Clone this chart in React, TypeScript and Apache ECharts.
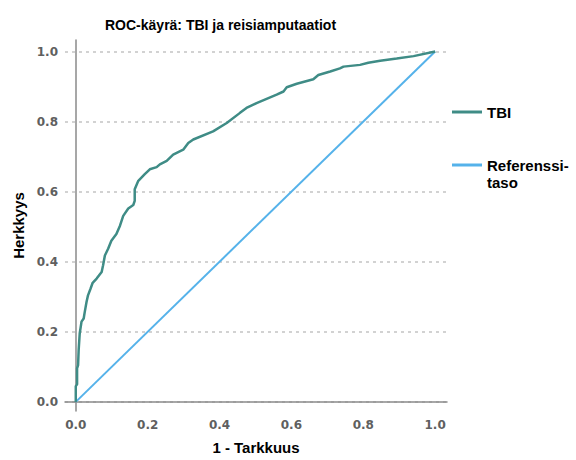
import React, { useEffect, useRef } from "react";
import * as echarts from "echarts";

const chartTitle = "ROC-käyrä: TBI ja reisiamputaatiot";
const xAxisName = "1 - Tarkkuus";
const yAxisName = "Herkkyys";
const tickValues = [0, 0.2, 0.4, 0.6, 0.8, 1.0];

const tbiName = "TBI";
const refName = "Referenssitaso";

// TBI ROC curve: false positive rate (1 - Tarkkuus) and sensitivity (Herkkyys)
const tbiFpr = [
  0, 0, 0.0036, 0.0036, 0.0064, 0.008, 0.011, 0.016, 0.022, 0.025, 0.03, 0.034,
  0.041, 0.047, 0.058, 0.072, 0.076, 0.081, 0.09, 0.099, 0.113, 0.123, 0.132,
  0.146, 0.16, 0.164, 0.164, 0.174, 0.192, 0.206, 0.225, 0.234, 0.253, 0.271,
  0.299, 0.313, 0.327, 0.382, 0.42, 0.457, 0.475, 0.503, 0.559, 0.578, 0.587,
  0.615, 0.661, 0.675, 0.708, 0.735, 0.745, 0.791, 0.814, 0.847, 0.893, 0.94, 1,
];
const tbiTpr = [
  0, 0.045, 0.05, 0.096, 0.105, 0.148, 0.196, 0.229, 0.238, 0.257, 0.286, 0.304,
  0.323, 0.34, 0.352, 0.371, 0.39, 0.418, 0.437, 0.46, 0.479, 0.503, 0.531,
  0.552, 0.562, 0.574, 0.607, 0.631, 0.65, 0.664, 0.67, 0.678, 0.688, 0.706,
  0.72, 0.739, 0.749, 0.772, 0.796, 0.825, 0.839, 0.853, 0.877, 0.886, 0.898,
  0.908, 0.921, 0.933, 0.943, 0.952, 0.957, 0.962, 0.968, 0.974, 0.98, 0.987, 1,
];

const refX = [0, 1];
const refY = [0, 1];

const tickFont = {
  fontFamily: "DejaVu Sans",
  fontWeight: "bold" as const,
  fontSize: 12,
  color: "#5f5f5f",
};
const nameFont = {
  fontFamily: "Liberation Sans",
  fontWeight: "bold" as const,
  fontSize: 15,
  color: "#000",
};

export default function App() {
  const ref = useRef<HTMLDivElement>(null);
  useEffect(() => {
    if (!ref.current) return;
    const chart = echarts.init(ref.current, null, { renderer: "svg" });
    const tbiData = tbiFpr.map((x, i) => [x, tbiTpr[i]]);
    const refData = refX.map((x, i) => [x, refY[i]]);
    chart.setOption({
      animation: false,
      backgroundColor: "#fff",
      title: {
        text: chartTitle,
        left: 100,
        top: 13,
        textStyle: {
          fontFamily: "Liberation Sans",
          fontWeight: "bold",
          fontSize: 14,
          color: "#000",
        },
      },
      grid: { left: 65, right: 129, top: 40, bottom: 47, containLabel: false },
      legend: [
        {
          data: [tbiName],
          orient: "vertical",
          left: 452,
          top: 104.5,
          padding: 0,
          icon: "rect",
          itemWidth: 30,
          itemHeight: 3,
          textStyle: { ...nameFont },
        },
        {
          data: [refName],
          orient: "vertical",
          left: 452,
          top: 139.5,
          padding: 0,
          icon: "rect",
          itemWidth: 30,
          itemHeight: 3,
          formatter: () => " \nReferenssi-\ntaso",
          textStyle: { ...nameFont, lineHeight: 17, width: 110, overflow: "none" },
        },
      ],
      xAxis: {
        type: "value",
        min: -0.03,
        max: 1.033,
        name: xAxisName,
        nameLocation: "middle",
        nameGap: 29,
        nameTextStyle: nameFont,
        axisLine: { show: true, lineStyle: { color: "#8a8a8a", width: 1.5 } },
        axisTick: { show: false, customValues: tickValues },
        axisLabel: {
          customValues: tickValues,
          margin: 8,
          formatter: (v: number) => v.toFixed(1),
          ...tickFont,
        },
        splitLine: { show: false },
      },
      yAxis: {
        type: "value",
        min: -0.026,
        max: 1.033,
        name: yAxisName,
        nameLocation: "middle",
        nameGap: 37,
        nameRotate: 90,
        nameTextStyle: nameFont,
        axisLine: { show: true, lineStyle: { color: "#8a8a8a", width: 1.5 } },
        axisTick: { show: false, customValues: tickValues },
        axisLabel: {
          customValues: tickValues,
          margin: 7,
          formatter: (v: number) => v.toFixed(1),
          ...tickFont,
        },
        splitLine: {
          show: true,
          lineStyle: { color: "#c4c4c4", type: [3, 4], width: 1.5 },
        },
      },
      series: [
        {
          name: tbiName,
          type: "line",
          data: tbiData,
          showSymbol: false,
          symbol: "none",
          color: "#3f8c86",
          lineStyle: { color: "#3f8c86", width: 2.5 },
          z: 3,
        },
        {
          name: refName,
          type: "line",
          data: refData,
          showSymbol: false,
          symbol: "none",
          color: "#55b2ea",
          lineStyle: { color: "#55b2ea", width: 2 },
          z: 2,
        },
      ],
    });
    return () => chart.dispose();
  }, []);
  return (
    <div
      ref={ref}
      style={{ position: "absolute", left: 0, top: 0, width: 576, height: 460 }}
    />
  );
}
